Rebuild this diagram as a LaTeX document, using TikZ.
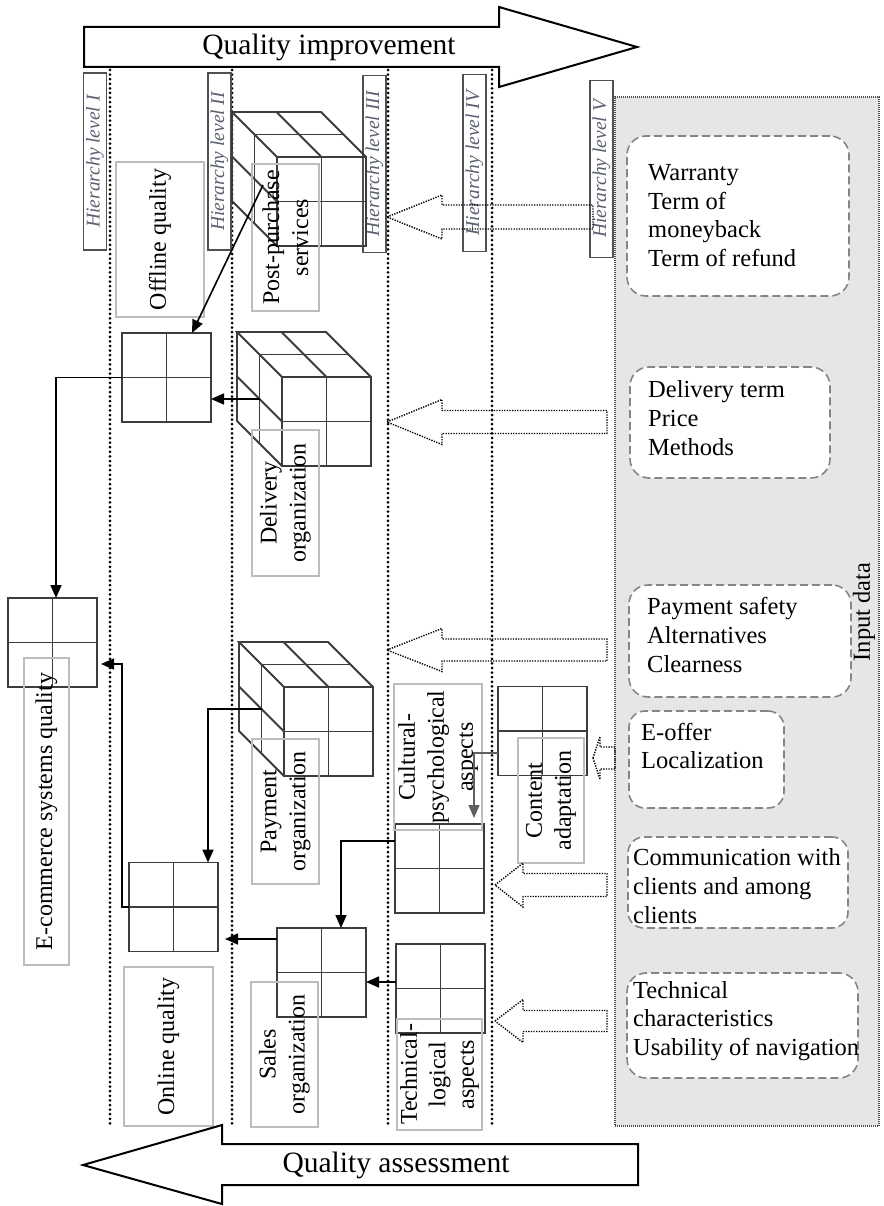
\documentclass[tikz,border=0pt]{standalone}
\usepackage{fontspec}
\setmainfont{Liberation Serif}
\usetikzlibrary{arrows.meta,calc}
\definecolor{gridc}{HTML}{3C3C3C}
\definecolor{lblc}{HTML}{BDBDBD}
\definecolor{lvlc}{HTML}{505050}
\definecolor{lvltext}{HTML}{5A6070}
\definecolor{panelc}{HTML}{E6E6E6}
\definecolor{dashc}{HTML}{858585}
\definecolor{grayarr}{HTML}{606060}
\newcommand\hollowarr[6]{\draw[hollow] (#1,#2) -- (#3,#2-#4) -- (#3,#2-#5) -- (#6,#2-#5) -- (#6,#2+#5) -- (#3,#2+#5) -- (#3,#2+#4) -- cycle;}
\begin{document}
\begin{tikzpicture}[x=1pt,y=-1pt,
  lbl/.style={draw=lblc, line width=1.5pt, inner sep=0pt, rotate=90, align=center, font=\fontsize{24}{29}\selectfont},
  lvl/.style={draw=lvlc, line width=1.8pt, rotate=90, inner sep=0pt, minimum width=177pt, minimum height=23pt, font=\fontsize{19.5}{22}\selectfont\itshape, text=lvltext},
  grid/.style={draw=gridc, line width=1.8pt, minimum width=89pt, minimum height=89pt, inner sep=0pt, outer sep=0pt,
    path picture={\draw[gridc, line width=1.8pt] (path picture bounding box.north) -- (path picture bounding box.south) (path picture bounding box.west) -- (path picture bounding box.east);}},
  cubeline/.style={draw=gridc, line width=1.8pt},
  conn/.style={line width=1.6pt, draw=black, -{Triangle[length=13pt,width=11pt]}},
  vline/.style={line width=3pt, dash pattern=on 0pt off 4.6pt, line cap=round},
  hollow/.style={draw=black, line width=1.4pt, dash pattern=on 1.3pt off 1.3pt},
  inbox/.style={draw=dashc, line width=1.6pt, dash pattern=on 8pt off 4pt, rounded corners=19pt, fill=white, inner sep=0pt},
  intext/.style={font=\fontsize{24.5}{28.7}\selectfont, align=left, anchor=west, inner sep=0pt},
  bigarrow/.style={draw=black, line width=2pt, fill=white},
  bigtext/.style={font=\fontsize{29.5}{32}\selectfont, inner sep=0pt},
  cube/.pic={
    \draw[cubeline] (0,0) rectangle (89,89);
    \draw[cubeline] (44.5,0) -- (44.5,89) (0,44.5) -- (89,44.5);
    \draw[cubeline] (0,0) -- (-45,-45) -- (44,-45) -- (89,0);
    \draw[cubeline] (44.5,0) -- (-0.5,-45);
    \draw[cubeline] (-22.5,-22.5) -- (66.5,-22.5);
    \draw[cubeline] (-45,-45) -- (-45,44) -- (0,89);
    \draw[cubeline] (0,44.5) -- (-45,-0.5);
    \draw[cubeline] (-22.5,-22.5) -- (-22.5,66.5);
    \coordinate (-lf) at (-22.5,22);
  }]
\useasboundingbox (0,0) rectangle (883,1206);
\fill[white] (0,0) rectangle (883,1206);

% input data panel
\node[fill=panelc, draw=black!70, line width=1.2pt, dash pattern=on 1pt off 1pt, minimum width=264pt, minimum height=1029pt, inner sep=0pt] (panel) at (747,611.5) {};
\node[rotate=90, font=\fontsize{24.5}{28}\selectfont, inner sep=0pt] (inp) at (864,612) {Input data};

% dotted level lines
\draw[vline] (110,70) -- (110,1127);
\draw[vline] (232,70) -- (232,1127);
\draw[vline] (388,70) -- (388,1127);
\draw[vline] (492,70) -- (492,1127);

% hierarchy level boxes
\node[lvl] (lv1) at (95,161.5) {Hierarchy level I};
\node[lvl] (lv2) at (219.5,161.5) {Hierarchy level II};
\node[lvl] (lv3) at (374.5,164) {Hierarchy level III};
\node[lvl] (lv4) at (474.5,163) {Hierarchy level IV};
\node[lvl] (lv5) at (601.5,169) {Hierarchy level V};

% cubes
\pic (c1) at (277,157) {cube};
\pic (c2) at (282,377) {cube};
\pic (c3) at (284,687) {cube};

% grids
\node[grid] (g1) at (166.5,377.5) {};
\node[grid] (g2) at (52.5,642.5) {};
\node[grid] (g3) at (173.5,907) {};
\node[grid] (g4) at (321.5,972.5) {};
\node[grid] (g5) at (439.5,868.5) {};
\node[grid] (g6) at (440.5,988.5) {};
\node[grid] (g7) at (542.5,731) {};

% labels
\node[lbl, minimum width=155pt, minimum height=88pt] (offq) at (160,239.5) {Offline quality};
\node[lbl, minimum width=147pt, minimum height=67pt] (post) at (285.5,237.5) {Post-purchase\\services};
\node[lbl, minimum width=146pt, minimum height=67pt] (deliv) at (285.5,503) {Delivery\\organization};
\node[lbl, minimum width=307pt, minimum height=45pt] (ecom) at (46.5,811.5) {E-commerce systems quality};
\node[lbl, minimum width=145pt, minimum height=67pt] (paym) at (285.5,811.5) {Payment\\organization};
\node[lbl, minimum width=159pt, minimum height=89pt] (onq) at (168.5,1046.5) {Online quality};
\node[lbl, minimum width=145pt, minimum height=67pt] (sales) at (284.5,1054.5) {Sales\\organization};
\node[lbl, minimum width=146pt, minimum height=88pt] (cult) at (438,757) {Cultural-\\psychological\\aspects};
\node[lbl, minimum width=125pt, minimum height=66pt] (cont) at (551,800.5) {Content\\adaptation};
\node[lbl, minimum width=111pt, minimum height=85pt, font=\fontsize{24}{28.5}\selectfont] (tech) at (439.5,1074.5) {Technical-\\logical\\aspects};

% solid connectors
\coordinate (pp) at (263,185);
\draw[conn] (pp) -- ([xshift=25.5pt]g1.north);
\draw[conn] (c2-lf) -- (c2-lf -| g1.east);
\draw[conn] (g1.west) -| ([xshift=3.5pt]g2.north);
\draw[conn] (g3.west) -- ++(-7,0) |- ([xshift=4pt,yshift=-21.5pt]g2.east);
\draw[conn] (c3-lf) -| ([xshift=34.5pt]g3.north);
\coordinate (s6) at ([yshift=33.5pt]g4.west);
\coordinate (e6) at ($(g3.east)+(7,0)$);
\draw[conn] (s6) -- (s6 -| e6);
\draw[conn] ([yshift=27.5pt]g5.west) -| ([xshift=19.5pt]g4.north);
\coordinate (s8) at ([yshift=6.5pt]g6.west);
\draw[conn] (s8) -- (s8 -| g4.east);
\draw[conn, draw=grayarr, line width=1.3pt] ([yshift=-22pt]g7.west) -| ([xshift=34.5pt,yshift=6pt]g5.north);

% hollow dotted arrows
\hollowarr{387}{217}{442}{22}{12}{593}
\hollowarr{387}{422}{442}{22.5}{11.5}{607}
\hollowarr{387}{650}{442}{21.5}{11}{607}
\hollowarr{593}{758}{600}{21.5}{11}{615}
\hollowarr{495}{885}{523}{22}{11.5}{607}
\hollowarr{495}{1021}{523}{21.5}{10.5}{607}

% input boxes
\node[inbox, minimum width=222pt, minimum height=160pt] (b1) at (738,216) {};
\node[intext] (t1) at (648,215.5) {Warranty\\Term of\\moneyback\\Term of refund};
\node[inbox, minimum width=200pt, minimum height=111pt] (b2) at (730,422.5) {};
\node[intext] (t2) at (648,418) {Delivery term\\Price\\Methods};
\node[inbox, minimum width=222pt, minimum height=112pt] (b3) at (740,641) {};
\node[intext] (t3) at (647,635) {Payment safety\\Alternatives\\Clearness};
\node[inbox, minimum width=155pt, minimum height=97pt, rounded corners=16pt] (b4) at (706.5,759.5) {};
\node[intext] (t4) at (641,746) {E-offer\\Localization};
\node[inbox, minimum width=220pt, minimum height=91pt, rounded corners=16pt] (b5) at (738,882.5) {};
\node[intext] (t5) at (633,886) {Communication with\\clients and among\\clients};
\node[inbox, minimum width=231pt, minimum height=105pt] (b6) at (742.5,1025.5) {};
\node[intext] (t6) at (633,1021) {Technical\\characteristics\\Usability of navigation};

% big arrows
\draw[bigarrow] (84,27) -- (499,27) -- (499,7) -- (637,47) -- (499,87) -- (499,67) -- (84,67) -- cycle;
\node[bigtext] (qi) at (329,47) {Quality improvement};
\draw[bigarrow] (638,1144) -- (222,1144) -- (222,1125) -- (83,1165) -- (222,1204) -- (222,1185) -- (638,1185) -- cycle;
\node[bigtext] (qa) at (396,1165) {Quality assessment};
\end{tikzpicture}
\end{document}
